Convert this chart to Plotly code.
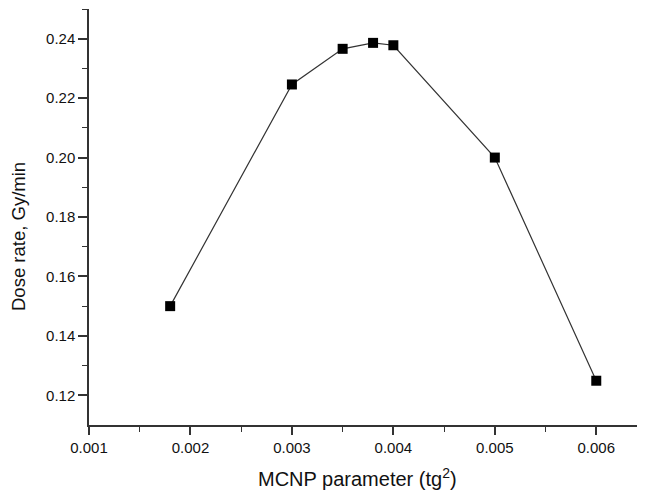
import plotly.graph_objects as go

mcnp_param = [0.0018, 0.003, 0.0035, 0.0038, 0.004, 0.005, 0.006]
dose_rate = [0.150, 0.2246, 0.2366, 0.2386, 0.2378, 0.200, 0.1249]

x_tickvals = [0.001, 0.002, 0.003, 0.004, 0.005, 0.006]
x_ticktext = ["0.001", "0.002", "0.003", "0.004", "0.005", "0.006"]
y_tickvals = [0.12, 0.14, 0.16, 0.18, 0.20, 0.22, 0.24]
y_ticktext = ["0.12", "0.14", "0.16", "0.18", "0.20", "0.22", "0.24"]
x_title = "MCNP parameter (tg<sup>2</sup>)"
y_title = "Dose rate, Gy/min"

fig = go.Figure()
fig.add_trace(go.Scatter(
    x=mcnp_param, y=dose_rate, mode="lines+markers",
    line=dict(color="#333333", width=1.2),
    marker=dict(symbol="square", size=10, color="black"),
    showlegend=False,
))

font = "Liberation Sans, Arial, sans-serif"
fig.update_layout(
    width=645, height=490,
    margin=dict(l=81, r=6, t=1, b=73),
    paper_bgcolor="white", plot_bgcolor="white",
    font=dict(family=font, color="#111111"),
    xaxis=dict(
        range=[0.001, 0.0065], tickvals=x_tickvals, ticktext=x_ticktext,
        showgrid=False, zeroline=False, showline=True, linecolor="#333333", linewidth=1.5,
        ticks="outside", ticklen=8, tickwidth=1.5, tickcolor="#333333",
        tickfont=dict(size=15, family=font),
        minor=dict(tickvals=[0.0015, 0.0025, 0.0035, 0.0045, 0.0055], ticks="outside", ticklen=5, tickwidth=1.2, tickcolor="#333333"),
    ),
    yaxis=dict(
        range=[0.11, 0.25], tickvals=y_tickvals, ticktext=y_ticktext,
        showgrid=False, zeroline=False, showline=True, linecolor="#333333", linewidth=1.5,
        ticks="outside", ticklen=9, tickwidth=1.5, tickcolor="#333333",
        tickfont=dict(size=15, family=font),
        minor=dict(tickvals=[0.13, 0.15, 0.17, 0.19, 0.21, 0.23, 0.25], ticks="outside", ticklen=5, tickwidth=1.2, tickcolor="#333333"),
    ),
    annotations=[
        dict(text=x_title, xref="paper", yref="paper", x=0.482, y=-0.127,
             xanchor="center", yanchor="middle", showarrow=False,
             font=dict(size=20, family=font, color="#111111")),
        dict(text=y_title, xref="paper", yref="paper", x=-0.1254, y=0.452,
             xanchor="center", yanchor="middle", showarrow=False, textangle=-90,
             font=dict(size=18.5, family=font, color="#111111")),
    ],
)

fig.write_html("out.html")
